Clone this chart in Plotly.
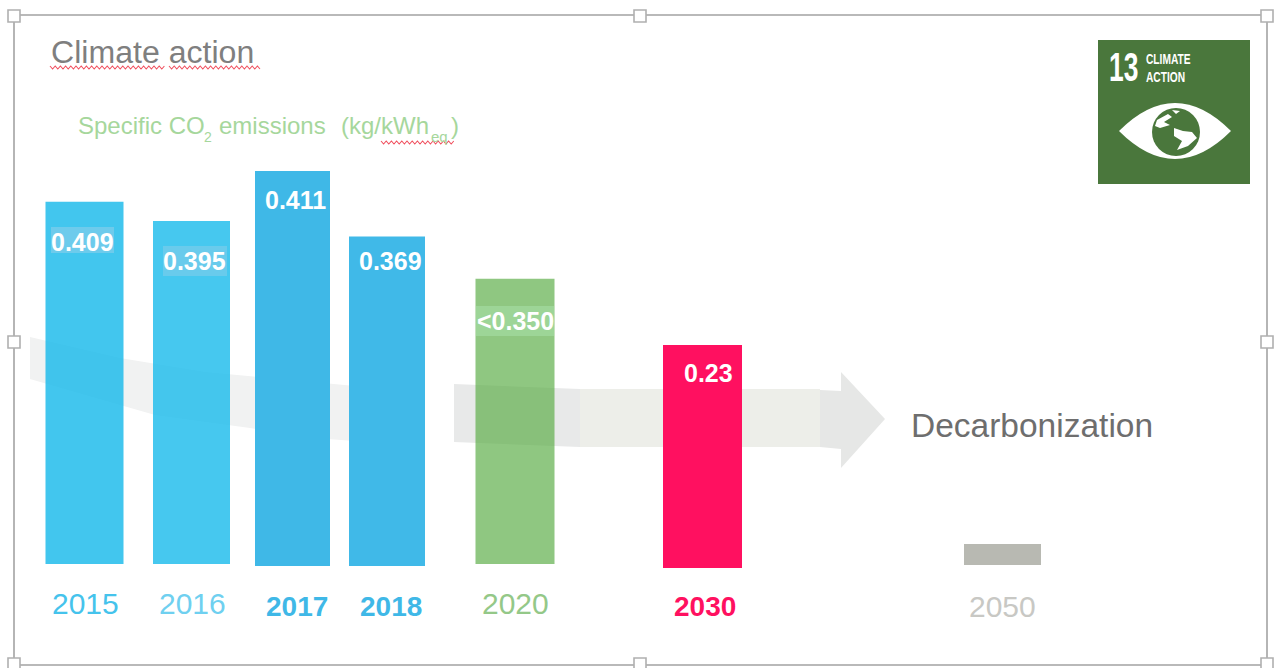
import plotly.graph_objects as go

# ---------- data ----------
years = ["2015", "2016", "2017", "2018", "2020", "2030", "2050"]
value_labels = ["0.409", "0.395", "0.411", "0.369", "&lt;0.350", "0.23"]
# heights of the bars as drawn in the picture (kg/kWh eq)
drawn_tops = [0.379, 0.359, 0.411, 0.343, 0.299, 0.230, 0.023]
drawn_bases = [0.002, 0.002, 0.0, 0.0, 0.002, -0.002, 0.001]

# ---------- layout ----------
W, H = 1277, 668
PX_PER_UNIT = 961.0
BASE_PX = 566.0
bar_x = [84.5, 191.5, 292.5, 387, 515, 702.5, 1002.5]
bar_w = [78, 77, 75, 76, 79, 79, 77]
bar_col = ["#42C6EE", "#46C8EF", "#3FB8E7", "#40B9E8", "#8FC781", "#FF1060", "#B8B9B2"]
bar_alpha = [0.82, 0.82, 1, 1, 0.68, 1, 1]
label_xy = [(82, 242), (194, 261), (295, 200), (390, 261), (515, 321), (708, 373)]
year_xy = [(85, 603), (192, 603), (297, 606), (391, 606), (515, 603), (705, 606), (1002, 606)]
year_col = ["#45C3EC", "#6FD0F0", "#3FB8E7", "#3FB8E7", "#94C888", "#FF1060", "#C8C8C4"]
year_bold = [False, False, True, True, False, True, False]
year_size = [30, 30, 28, 28, 30, 28, 30]


def hex_for_alpha(c, a):
    r = [int(c[i:i + 2], 16) for i in (1, 3, 5)]
    return "rgba(%d,%d,%d,%.2f)" % (*[max(0, round((v - (1 - a) * 255) / a)) for v in r], a)


def px(x):
    return x / W


def py(y):
    return 1 - y / H


def poly(points, close=True):
    s = "M " + " L ".join("%.5f,%.5f" % (px(a), py(b)) for a, b in points)
    return s + (" Z" if close else "")


def fill(points, color, layer="below"):
    return dict(type="path", xref="paper", yref="paper", path=poly(points), layer=layer,
                fillcolor=color, line=dict(width=0))


def rect(x0, y0, x1, y1, color, layer="above", line=None):
    return dict(type="rect", xref="paper", yref="paper", x0=px(x0), x1=px(x1), y0=py(y0), y1=py(y1),
                layer=layer, fillcolor=color, line=line or dict(width=0))


def squiggle(x0, x1, y, color="#F0505F"):
    pts = []
    x = x0
    up = True
    while x <= x1:
        pts.append((x, y - 1.5 if up else y + 1.5))
        up = not up
        x += 2.6
    return dict(type="path", xref="paper", yref="paper", path=poly(pts, close=False), layer="above",
                line=dict(color=color, width=1.1))


shapes = [
    # decarbonization arrow
    fill([(30, 337), (120, 358), (205, 372), (270, 378), (355, 386),
          (355, 441), (300, 437), (250, 428), (155, 415), (30, 379)], "#F1F2F2"),
    fill([(454, 384), (580, 389), (580, 447), (454, 442)], "#E8E9E9"),
    fill([(580, 389), (820, 389), (820, 447), (580, 447)], "#EDEEE9"),
    fill([(820, 390), (841, 391), (841, 372), (885, 419), (841, 468), (841, 449), (820, 447)], "#E6E7E6"),
    # label highlights
    rect(51, 227, 114, 253, "#6DCBEC"),
    rect(163, 246, 227, 276, "#69CBEC"),
    rect(476, 306, 554, 336, "#9DD597"),
    # logo
    rect(1098, 40, 1250, 184, "#4A773C"),
    dict(type="path", xref="paper", yref="paper", layer="above", fillcolor="white", line=dict(width=0),
         path="M %f,%f Q %f,%f %f,%f Q %f,%f %f,%f Z" % (
             px(1119), py(131), px(1175), py(75), px(1231), py(131),
             px(1175), py(187), px(1119), py(131))),
    dict(type="circle", xref="paper", yref="paper", layer="above", fillcolor="#4A773C", line=dict(width=0),
         x0=px(1152), x1=px(1200), y0=py(108), y1=py(156)),
    fill([(1157, 120), (1168, 114), (1172, 117), (1164, 122), (1170, 125), (1160, 128), (1155, 126)], "white", "above"),
    fill([(1174, 128), (1183, 131), (1192, 132), (1197, 138), (1188, 146), (1177, 150),
          (1182, 141), (1174, 136)], "white", "above"),
    fill([(1172, 110), (1180, 111), (1176, 114)], "white", "above"),
    # spell-check underlines
    squiggle(50, 165, 67.5), squiggle(169, 260, 67.5), squiggle(381, 456, 142.5),
    # selection frame
    rect(14, 15, 1267, 665, "rgba(0,0,0,0)", line=dict(color="#A3A3A3", width=1.6)),
]
for hx, hy in [(14, 16), (640, 16), (1267, 16), (14, 342), (1267, 342), (14, 664), (640, 664), (1267, 664)]:
    shapes.append(rect(hx - 6, hy - 6, hx + 6, hy + 6, "white", line=dict(color="#B0B0B0", width=1.6)))


def note(x, y, text, size, color, anchor="center"):
    return dict(xref="paper", yref="paper", x=px(x), y=py(y), text=text, showarrow=False, xanchor=anchor,
                yanchor="middle", align="left", font=dict(size=size, color=color, family="Liberation Sans"))


GREEN_TXT = "#A6D79C"
annotations = [
    note(49, 52, "Climate action", 32.1, "#7F7F7F", anchor="left"),
    note(76, 125, "Specific CO", 24, GREEN_TXT, anchor="left"),
    note(202, 137, "2", 14, GREEN_TXT, anchor="left"),
    note(217, 125, "emissions", 24, GREEN_TXT, anchor="left"),
    note(339, 125, "(kg/kWh", 24, GREEN_TXT, anchor="left"),
    note(429, 136, "eq", 15, GREEN_TXT, anchor="left"),
    note(449, 125, ")", 24, GREEN_TXT, anchor="left"),
    note(909, 425, "Decarbonization", 33.5, "#6E6E6E", anchor="left"),
    note(1107, 67, "<b>13</b>", 40, "white", anchor="left"),
    note(1144, 59, "<b>CLIMATE</b>", 15, "white", anchor="left"),
    note(1144, 76, "<b>ACTION</b>", 15, "white", anchor="left"),
]
for (x, y), t in zip(label_xy, value_labels):
    annotations.append(note(x, y, "<b>%s</b>" % t, 25, "white"))
for (x, y), t, c, b, s in zip(year_xy, years, year_col, year_bold, year_size):
    annotations.append(note(x, y, "<b>%s</b>" % t if b else t, s, c))

fig = go.Figure(go.Bar(
    x=bar_x,
    y=[t - b for t, b in zip(drawn_tops, drawn_bases)],
    base=drawn_bases,
    width=bar_w,
    marker=dict(color=[hex_for_alpha(c, a) for c, a in zip(bar_col, bar_alpha)], line=dict(width=0)),
    hoverinfo="skip",
))
fig.update_layout(
    width=W, height=H, margin=dict(l=0, r=0, t=0, b=0), showlegend=False,
    paper_bgcolor="white", plot_bgcolor="rgba(0,0,0,0)",
    xaxis=dict(range=[0, W], visible=False, fixedrange=True),
    yaxis=dict(range=[-(H - BASE_PX) / PX_PER_UNIT, BASE_PX / PX_PER_UNIT], visible=False, fixedrange=True),
    shapes=shapes, annotations=annotations,
)

# The logo lettering is condensed; no narrow face is installed, so squeeze those three labels.
post = """
document.body.style.margin='0';document.documentElement.style.overflow='hidden';
function squeeze(){
  document.querySelectorAll('text.annotation-text').forEach(function(t){
    var s=t.textContent;
    if(s==='13'||s==='CLIMATE'||s==='ACTION'){
      var k=(s==='13')?0.66:0.68;
      var ax=t.getBBox().x;
      t.setAttribute('transform','translate('+ax+',0) scale('+k+',1) translate('+(-ax)+',0)');
    }
  });
}
squeeze();setTimeout(squeeze,50);setTimeout(squeeze,300);
"""
fig.write_html("out.html", config=dict(displayModeBar=False), post_script=post)
